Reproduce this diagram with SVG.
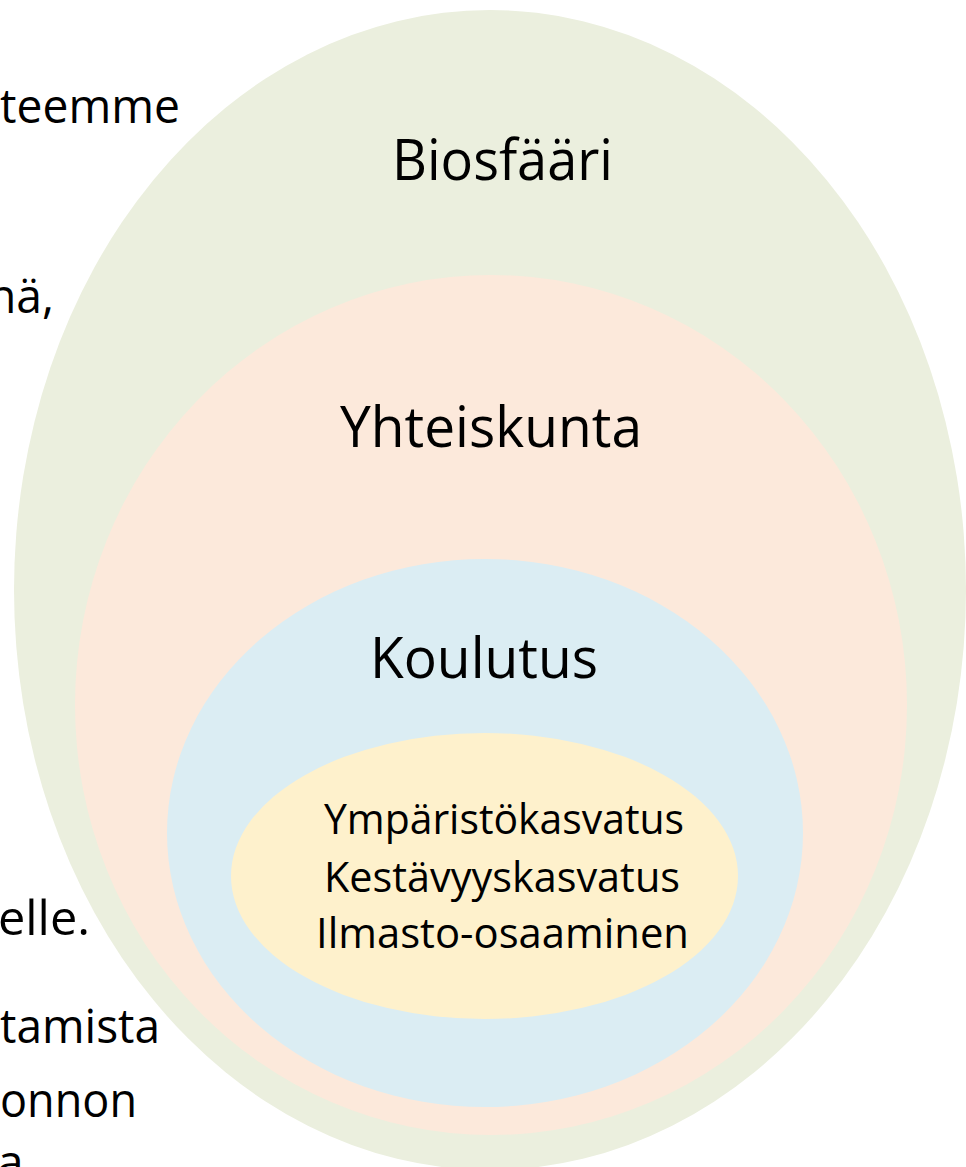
<svg xmlns="http://www.w3.org/2000/svg" width="966" height="1167" viewBox="0 0 966 1167">
<style>
text { font-family: "Open Sans", "Noto Sans", "Liberation Sans", sans-serif; fill: #000; }
.bg { font-size: 48px; }
.big { font-size: 57px; }
.small { font-size: 42px; }
</style>
<rect x="0" y="0" width="966" height="1167" fill="#FFFFFF"/>
<g id="background-text">
<text class="bg" x="0" y="123" textLength="180" lengthAdjust="spacingAndGlyphs">teemme</text>
<text class="bg" x="-12" y="313" textLength="66" lengthAdjust="spacingAndGlyphs">nä,</text>
<text class="bg" x="-2" y="935" textLength="92" lengthAdjust="spacingAndGlyphs">elle.</text>
<text class="bg" x="0" y="1043" textLength="160" lengthAdjust="spacingAndGlyphs">tamista</text>
<text class="bg" x="0" y="1117" textLength="137" lengthAdjust="spacingAndGlyphs">onnon</text>
<text class="bg" x="-3" y="1179">a</text>
</g>
<g id="biosfaari">
<ellipse cx="490" cy="590" rx="476" ry="580" fill="#EBEFDE"/>
<text class="big" x="392" y="180" textLength="221" lengthAdjust="spacingAndGlyphs">Biosfääri</text>
</g>
<g id="yhteiskunta">
<ellipse cx="491" cy="705" rx="416" ry="430" fill="#FCE9DB"/>
<text class="big" x="340" y="447" textLength="302" lengthAdjust="spacingAndGlyphs">Yhteiskunta</text>
</g>
<g id="koulutus">
<ellipse cx="485" cy="833" rx="318" ry="274" fill="#DBEDF3"/>
<text class="big" x="370" y="678" textLength="228" lengthAdjust="spacingAndGlyphs">Koulutus</text>
</g>
<g id="ydin">
<ellipse cx="484.5" cy="876" rx="253.5" ry="143" fill="#FEF1CC"/>
<text class="small" x="324" y="834" textLength="360" lengthAdjust="spacingAndGlyphs">Ympäristökasvatus</text>
<text class="small" x="324" y="892" textLength="356" lengthAdjust="spacingAndGlyphs">Kestävyyskasvatus</text>
<text class="small" x="316" y="948" textLength="373" lengthAdjust="spacingAndGlyphs">Ilmasto-osaaminen</text>
</g>
<g id="connectors"/>
</svg>
